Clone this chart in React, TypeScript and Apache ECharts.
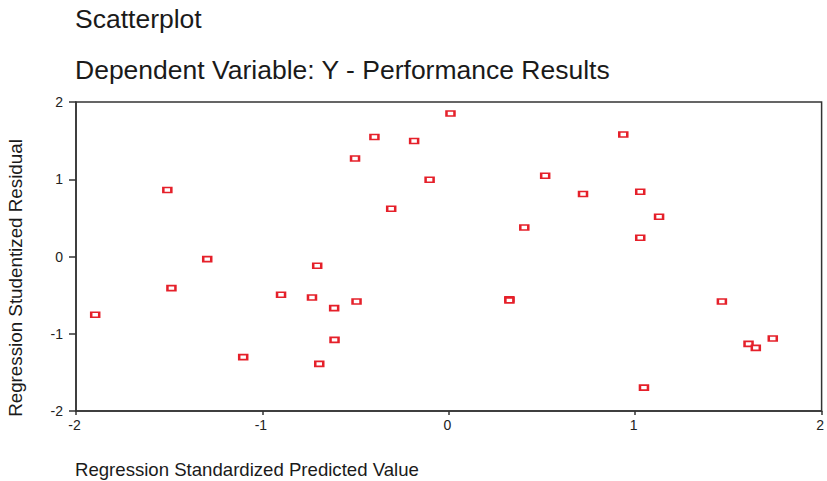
import React, { useEffect, useRef } from "react";
import * as echarts from "echarts";

const titleLines = ["Scatterplot", "Dependent Variable: Y - Performance Results"];
const xAxisTitle = "Regression Standardized Predicted Value";
const yAxisTitle = "Regression Studentized Residual";

const predicted = [
  -1.897, -1.51, -1.488, -1.296, -1.103, -0.9, -0.734, -0.706, -0.695, -0.615,
  -0.613, -0.503, -0.495, -0.399, -0.309, -0.186, -0.103, 0.009, 0.325, 0.325,
  0.405, 0.517, 0.72, 0.936, 1.027, 1.128, 1.027, 1.047, 1.465, 1.608, 1.647, 1.738,
];
const residual = [
  -0.755, 0.86, -0.409, -0.034, -1.303, -0.496, -0.531, -0.12, -1.39, -0.668,
  -1.079, 1.269, -0.583, 1.547, 0.618, 1.495, 0.994, 1.852, -0.553, -0.568,
  0.376, 1.045, 0.808, 1.579, 0.838, 0.514, 0.242, -1.697, -0.583, -1.131, -1.183, -1.062,
];

const FONT = "Liberation Sans, Arial, Helvetica, sans-serif";
const AXIS = "#333333";
const RED = "#e5202a";

export default function App() {
  const ref = useRef<HTMLDivElement>(null);
  useEffect(() => {
    document.body.style.margin = "0";
    if (!ref.current) return;
    const chart = echarts.init(ref.current, null, { renderer: "svg" });
    const points = predicted.map((x, i) => [x, residual[i]]);
    chart.setOption({
      animation: false,
      backgroundColor: "#ffffff",
      grid: {
        left: 76,
        right: 3,
        top: 102,
        bottom: 70,
        show: true,
        borderColor: AXIS,
        borderWidth: 1.5,
        backgroundColor: "transparent",
      },
      xAxis: {
        type: "value",
        min: -2,
        max: 2,
        interval: 1,
        splitLine: { show: false },
        axisLine: { show: true, onZero: false, lineStyle: { color: AXIS, width: 1.5 } },
        axisTick: { show: true, length: 4, lineStyle: { color: AXIS, width: 1.5 } },
        axisLabel: {
          color: "#222",
          fontFamily: FONT,
          fontSize: 14,
          margin: 7,
          padding: [0, 3, 0, 0],
        },
      },
      yAxis: {
        type: "value",
        min: -2,
        max: 2,
        interval: 1,
        splitLine: { show: false },
        axisLine: { show: true, onZero: false, lineStyle: { color: AXIS, width: 1.5 } },
        axisTick: { show: true, length: 7, lineStyle: { color: AXIS, width: 1.5 } },
        axisLabel: {
          color: "#222",
          fontFamily: FONT,
          fontSize: 14,
          margin: 13,
          padding: [4, 0, 0, 0],
        },
      },
      graphic: [
        {
          type: "text",
          left: 75,
          top: 5,
          style: { text: titleLines[0], font: `26.5px ${FONT}`, fill: "#1a1a1a" },
        },
        {
          type: "text",
          left: 75,
          top: 56,
          style: { text: titleLines[1], font: `26.5px ${FONT}`, fill: "#1a1a1a" },
        },
        {
          type: "text",
          left: 75,
          top: 460,
          style: { text: xAxisTitle, font: `18.6px ${FONT}`, fill: "#1a1a1a" },
        },
        {
          type: "text",
          x: 15,
          y: 278,
          rotation: Math.PI / 2,
          style: {
            text: yAxisTitle,
            font: `18.8px ${FONT}`,
            fill: "#1a1a1a",
            align: "center",
            verticalAlign: "middle",
          },
        },
      ],
      series: [
        {
          type: "scatter",
          data: points,
          symbol: "rect",
          symbolSize: [8, 5],
          itemStyle: { color: "#ffffff", borderColor: RED, borderWidth: 2, opacity: 1 },
          emphasis: { disabled: true },
        },
      ],
    });
    return () => chart.dispose();
  }, []);
  return <div ref={ref} style={{ width: 827, height: 481 }} />;
}
